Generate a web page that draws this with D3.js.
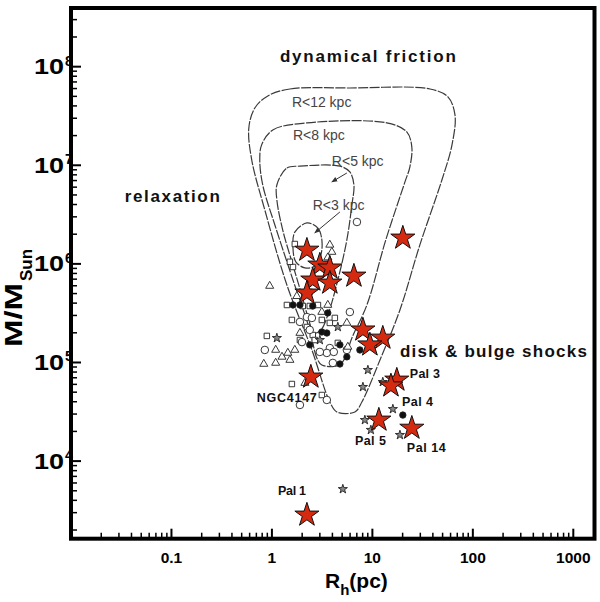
<!DOCTYPE html>
<html><head><meta charset="utf-8">
<script src="https://cdn.jsdelivr.net/npm/d3@7/dist/d3.min.js"></script>
<style>body{margin:0;background:#fff}svg{display:block}</style>
</head><body><svg id="c" width="600" height="602"></svg>
<script>
// ---------------- data ----------------
const xMajorTicks = [0.01, 0.1, 1, 10, 100, 1000];
const xTickLabels = ["", "0.1", "1", "10", "100", "1000"];
const yMajorTicks = [1e4, 1e5, 1e6, 1e7, 1e8];
const yTickExponents = ["4", "5", "6", "7", "8"];

// red stars: [Rh (pc), M (Msun)]
const redStars = [[20.1,1.83e6],[2.23,1.38e6],[3.0,9.75e5],[3.77,9.1e5],[2.55,6.87e5],[3.77,6.4e5],
  [6.55,7.53e5],[2.23,5.07e5],[8.05,2.14e5],[12.7,1.77e5],[9.44,1.51e5],[2.44,7.13e4],
  [17.5,6.64e4],[15.3,5.8e4],[11.6,2.61e4],[24.7,2.16e4],[2.23,2.84e3]];

const openSquares = [[1.62,9.3e5],[1.69,1.59e6],[1.51,1.05e6],[1.41,3.83e5],[1.58,2.7e5],[3.14,2.7e5],
  [3.77,2.52e5],[4.23,2.83e5],[2.23,2.29e5],[2.55,1.9e5],[0.89,1.86e5],[1.9,1.69e5],[4.53,1.58e5],
  [1.58,6.05e4],[3.14,4.68e4],[2.67,1.69e5],[2.87,3.83e5],[2.38,3.74e5],[2.03,3.74e5],[2.38,5.2e5]];
const openCircles = [[7.02,2.66e6],[5.97,3.25e5],[2.23,2.89e5],[2.5,2.83e5],[0.85,1.34e5],[3.77,1.4e5],
  [3.52,1.25e5],[4.13,1.28e5],[5.57,1.34e5],[1.99,1.61e5],[3.52,4.17e4],[1.9,3.71e4],[4.04,9.9e4],
  [2.38,2.14e5],[3.0,1.28e5],[1.9,2.58e5]];
const openTriangles = [[0.95,5.97e5],[3.6,3.83e5],[3.14,3.25e5],[5.57,2.52e5],[1.9,1.99e5],[1.09,1.34e5],
  [1.26,1.14e5],[1.44,1.25e5],[1.69,1.34e5],[1.51,1.06e5],[0.83,9.66e4],[1.09,9.9e4],[5.7,1.44e5],
  [3.77,1.56e6],[3.95,1.32e6],[3.6,1.16e6],[2.13,6.19e4],[1.77,4.7e5]];
const filledCircles = [[1.62,3.83e5],[1.9,3.83e5],[2.55,3.74e5],[3.6,3.18e5],[3.14,2.04e5],[3.52,1.99e5],
  [4.75,9.66e4],[5.57,1.14e5],[7.51,1.34e5],[20.1,2.93e4],[2.38,1.51e5],[4.75,1.51e5]];
const smallStars = [[1.12,1.77e5],[4.53,2.29e5],[9.02,8.39e4],[8.05,5.64e4],[12.7,6.34e4],[16.0,3.37e4],
  [8.42,2.61e4],[9.66,2.07e4],[18.8,1.84e4],[5.08,5.2e3],[3.0,1.69e5]];

// survival-region contours [Rh, M]
const contourR12 = [[0.91,5.05e7],[1.51,5.94e7],[5.97,6.08e7],[37.4,5.94e7],[56.5,4.93e7],[66.4,3.24e7],
  [62,1.61e7],[49.2,7.1e6],[29.7,1.56e6],[18.8,3.41e5],[11.9,1.06e5],[7.86,3.97e4],[6.7,3.15e4],
  [4.43,3.15e4],[3.77,3.97e4],[2.5,1.34e5],[1.41,6.1e5],[0.85,3.52e6],[0.63,1.13e7],[0.589,2.39e7],[0.676,3.81e7]];
const contourR8 = [[0.79,1.61e7],[1.02,2.28e7],[2.23,2.69e7],[13.9,2.69e7],[22.0,2.18e7],[24.7,1.53e7],
  [23.6,9.6e6],[21.1,6.78e6],[13.6,1.75e6],[8.82,3.83e5],[6.25,1.77e5],[5.32,1.11e5],[4.75,9.43e4],
  [3.14,9.43e4],[2.8,1.11e5],[2.38,2.14e5],[1.62,6.87e5],[1.07,2.48e6],[0.81,6.31e6],[0.757,1.13e7]];
const contourR5 = [[1.12,6.31e6],[1.41,9.4e6],[1.9,9.8e6],[4.75,9.8e6],[5.97,8.55e6],[6.55,6.31e6],
  [6.25,3.96e6],[5.57,1.75e6],[4.53,6.87e5],[3.6,3.03e5],[3.07,2.14e5],[2.61,1.99e5],[2.33,2.7e5],
  [1.94,5.2e5],[1.58,1.05e6],[1.28,2.21e6],[1.12,4.45e6]];
const contourR3 = [[2.23,2.6e6],[2.87,2.31e6],[3.14,1.75e6],[3.07,1.23e6],[2.67,9.5e5],[2.13,9.1e5],
  [1.73,1.05e6],[1.62,1.45e6],[1.69,2.1e6]];

const contourLabels = [
  {text:"R<12 kpc", rh:1.58, m:3.9e7},
  {text:"R<8 kpc", rh:1.62, m:1.81e7},
  {text:"R<5 kpc", rh:3.95, m:9.8e6},
  {text:"R<3 kpc", rh:2.55, m:3.52e6}
];
const contourArrows = [
  {from:[5.57,8.35e6], to:[3.95,6.78e6]},
  {from:[4.75,3.36e6], to:[2.67,2.06e6]}
];
const regionLabels = [
  {text:"dynamical friction", rh:1.2, m:1.12e8, w:176},
  {text:"relaxation", rh:0.0343, m:4.25e6, w:95},
  {text:"disk & bulge shocks", rh:18.8, m:1.14e5, w:187}
];
const clusterLabels = [
  {text:"NGC4147", rh:0.707, m:3.97e4, w:60},
  {text:"Pal 3", rh:23.6, m:6.97e4, w:30},
  {text:"Pal 4", rh:19.7, m:3.62e4, w:31},
  {text:"Pal 5", rh:6.7, m:1.46e4, w:31},
  {text:"Pal 14", rh:22.0, m:1.24e4, w:39},
  {text:"Pal 1", rh:1.15, m:4.53e3, w:28}
];

// ---------------- chart ----------------
const svg = d3.select("#c");
const L = 71, T = 8, R = 594.5, B = 538.7;
const x = d3.scaleLog().domain([0.01, Math.pow(10, 3.211)]).range([L, R]);
const y = d3.scaleLog().domain([Math.pow(10, 3.213), Math.pow(10, 8.595)]).range([B, T]);
const FONT = "'Liberation Sans', Arial, Helvetica, sans-serif";

svg.append("defs").append("marker").attr("id","ah").attr("viewBox","0 0 10 10")
  .attr("refX",9).attr("refY",5).attr("markerWidth",6).attr("markerHeight",6).attr("orient","auto")
  .append("path").attr("d","M0,1L10,5L0,9Z").attr("fill","#333");

// contours
const line = d3.line().x(d => x(d[0])).y(d => y(d[1])).curve(d3.curveCatmullRomClosed.alpha(0.5));
const gC = svg.append("g");
[contourR12, contourR8, contourR5, contourR3].forEach(c => {
  gC.append("path").attr("d", line(c)).attr("fill","none").attr("stroke","#3a3a3a")
    .attr("stroke-width",1.2).attr("stroke-dasharray","10,1.4");
});
gC.selectAll("text.cl").data(contourLabels).join("text").attr("class","cl")
  .attr("x", d => x(d.rh)).attr("y", d => y(d.m)).attr("font-family", FONT)
  .attr("font-size", 14).attr("fill", "#444").text(d => d.text);
gC.selectAll("line.ar").data(contourArrows).join("line").attr("class","ar")
  .attr("x1", d => x(d.from[0])).attr("y1", d => y(d.from[1]))
  .attr("x2", d => x(d.to[0])).attr("y2", d => y(d.to[1]))
  .attr("stroke","#333").attr("stroke-width",1).attr("marker-end","url(#ah)");

// small markers
const gM = svg.append("g").attr("stroke","#222").attr("stroke-width",0.9);
function plot(data, type, size, fill) {
  gM.append("g").selectAll("path").data(data).join("path")
    .attr("transform", d => `translate(${x(d[0])},${y(d[1])})`)
    .attr("d", d3.symbol(type, size)).attr("fill", fill);
}
plot(openSquares, d3.symbolSquare, 30, "white");
plot(openCircles, d3.symbolCircle, 45, "white");
plot(openTriangles, d3.symbolTriangle, 28, "white");
plot(filledCircles, d3.symbolCircle, 32, "#111");
plot(smallStars, d3.symbolStar, 26, "#888");

// red stars
svg.append("g").selectAll("path").data(redStars).join("path")
  .attr("transform", d => `translate(${x(d[0])},${y(d[1])})`)
  .attr("d", d3.symbol(d3.symbolStar, 180))
  .attr("fill", "#d62a10").attr("stroke", "#111").attr("stroke-width", 1);

// text labels
svg.append("g").selectAll("text").data(regionLabels).join("text")
  .attr("x", d => x(d.rh)).attr("y", d => y(d.m)).attr("font-family", FONT)
  .attr("font-weight","bold").attr("font-size", 17).attr("fill","#111")
  .attr("textLength", d => d.w).attr("lengthAdjust","spacing").text(d => d.text);
svg.append("g").selectAll("text").data(clusterLabels).join("text")
  .attr("x", d => x(d.rh)).attr("y", d => y(d.m)).attr("font-family", FONT)
  .attr("font-weight","bold").attr("font-size", 12.5).attr("fill","#111")
  .attr("textLength", d => d.w).attr("lengthAdjust","spacing").text(d => d.text);

// axes ticks
const minorX = [], minorY = [];
for (let e = -2; e <= 3; e++) for (let k = 2; k <= 9; k++) {
  const v = k * Math.pow(10, e); if (v < x.domain()[1]) minorX.push(v);
}
for (let e = 3; e <= 8; e++) for (let k = 2; k <= 9; k++) {
  const v = k * Math.pow(10, e); if (v > y.domain()[0] && v < y.domain()[1]) minorY.push(v);
}
const gA = svg.append("g").attr("stroke","#000");
gA.selectAll("line.xM").data(xMajorTicks).join("line").attr("x1", d=>x(d)).attr("x2", d=>x(d))
  .attr("y1", B).attr("y2", B-10).attr("stroke-width",2);
gA.selectAll("line.xm").data(minorX).join("line").attr("x1", d=>x(d)).attr("x2", d=>x(d))
  .attr("y1", B).attr("y2", B-6).attr("stroke-width",1.5);
gA.selectAll("line.yM").data(yMajorTicks).join("line").attr("y1", d=>y(d)).attr("y2", d=>y(d))
  .attr("x1", L).attr("x2", L+10).attr("stroke-width",2);
gA.selectAll("line.ym").data(minorY).join("line").attr("y1", d=>y(d)).attr("y2", d=>y(d))
  .attr("x1", L).attr("x2", L+6).attr("stroke-width",1.5);

// frame
svg.append("rect").attr("x", L).attr("y", T).attr("width", R-L).attr("height", B-T)
  .attr("fill","none").attr("stroke","#000").attr("stroke-width",4);

// tick labels
svg.append("g").selectAll("text").data(xMajorTicks).join("text")
  .attr("x", d => x(d)).attr("y", 563).attr("text-anchor","middle")
  .attr("font-family", FONT).attr("font-weight","bold").attr("font-size", 15.5)
  .text((d,i) => xTickLabels[i]);
const gY = svg.append("g").attr("font-family", FONT).attr("font-weight","bold").attr("fill","#000");
yMajorTicks.forEach((v,i) => {
  gY.append("text").attr("x", 34).attr("y", y(v)+7.5).attr("font-size", 22)
    .attr("textLength", 30).attr("lengthAdjust","spacingAndGlyphs").text("10");
  gY.append("text").attr("x", 65).attr("y", y(v)-1).attr("font-size", 14).text(yTickExponents[i]);
});

// axis titles
const xt = svg.append("text").attr("x", 325).attr("y", 588).attr("font-family", FONT)
  .attr("font-weight","bold").attr("font-size", 21);
xt.append("tspan").text("R");
xt.append("tspan").attr("dy", 7).attr("font-size", 15).text("h");
xt.append("tspan").attr("dy", -7).text("(pc)");
const ytG = svg.append("g").attr("transform","translate(22,347) rotate(-90)")
  .attr("font-family", FONT).attr("font-weight","bold").attr("fill","#000");
ytG.append("text").attr("x", 0).attr("y", 0).attr("font-size", 23)
  .attr("textLength", 64).attr("lengthAdjust","spacingAndGlyphs").text("M/M");
ytG.append("text").attr("x", 66).attr("y", 10).attr("font-size", 16)
  .attr("textLength", 32).attr("lengthAdjust","spacingAndGlyphs").text("Sun");
</script></body></html>
